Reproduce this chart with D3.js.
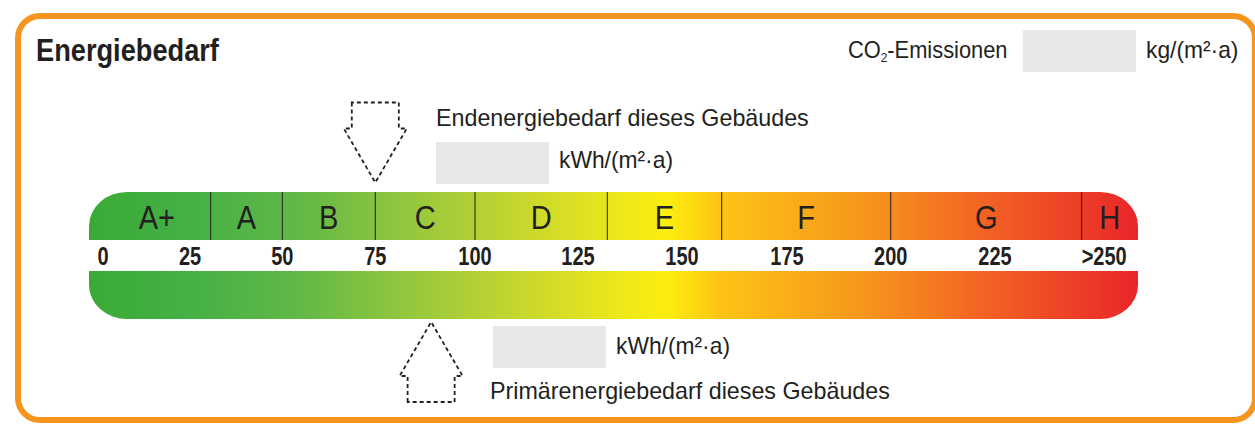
<!DOCTYPE html>
<html>
<head>
<meta charset="utf-8">
<script src="https://cdn.jsdelivr.net/npm/d3@7"></script>
<style>
  body { margin: 0; background: #fff; }
  svg { display: block; }
</style>
</head>
<body>
<div id="chart"></div>
<script>
const w = 1255, h = 428;

// classes and their lower bounds (H is open ended)
const classes = ["A+", "A", "B", "C", "D", "E", "F", "G", "H"];
const classBounds = [0, 30, 50, 75, 100, 130, 160, 200, 250, 265];

// printed scale
const tickValues = [0, 25, 50, 75, 100, 125, 150, 175, 200, 225, 250];
const tickLabels = ["0", "25", "50", "75", "100", "125", "150", "175", "200", "225", ">250"];

// values marked by the arrows, kWh/(m²·a)
const endenergie = 75;
const primaerenergie = 89;

// colour ramp along the scale
const rampValues = [-4, 25, 55, 85, 110, 133, 146, 160, 195, 228, 265];
const rampColors = ["#3aaa35", "#45b046", "#62b946", "#97c83d", "#c5d62f", "#ece81a", "#fcee0f", "#fdc314", "#f7941d", "#f15a24", "#e9262a"];

const FONT = '"Liberation Sans", Arial, sans-serif';
const INK = "#231f20";
const ORANGE = "#f7941d";
const BOX = "#e6e7e8";

// the printed scale is not evenly spaced, so the scale is piecewise
const x = d3.scaleLinear()
  .domain([-4, 0, 25, 30, 50, 75, 100, 125, 130, 150, 160, 175, 200, 225, 250, 265])
  .range([89, 103, 190, 210.7, 282.3, 375.3, 475, 578, 607.3, 682, 721.7, 787, 890.7, 995, 1081.7, 1138]);

// no condensed face is installed, so narrow the text by hand
function squeeze(sel, k) {
  sel.each(function() {
    const len = this.getComputedTextLength();
    d3.select(this).attr("textLength", len * k).attr("lengthAdjust", "spacingAndGlyphs");
  });
  return sel;
}

const svg = d3.select("#chart").append("svg")
  .attr("width", w).attr("height", h)
  .attr("viewBox", "0 0 " + w + " " + h)
  .style("font-family", FONT);

// frame
svg.append("rect")
  .attr("x", 18).attr("y", 16).attr("width", 1237).attr("height", 404)
  .attr("rx", 22).attr("ry", 22)
  .attr("fill", "none").attr("stroke", ORANGE).attr("stroke-width", 6);

// gradient
const defs = svg.append("defs");
const grad = defs.append("linearGradient").attr("id", "ramp")
  .attr("gradientUnits", "userSpaceOnUse")
  .attr("x1", x(-4)).attr("x2", x(265)).attr("y1", 0).attr("y2", 0);
grad.selectAll("stop").data(rampValues).enter().append("stop")
  .attr("offset", d => (x(d) - x(-4)) / (x(265) - x(-4)))
  .attr("stop-color", (d, i) => rampColors[i]);

const x0 = x(-4), x1 = x(265);
const rx = 38, ry = 34;
const topY = 192, topH = 48, botY = 271, botH = 48;

// upper bar: rounded on top
svg.append("path")
  .attr("d", "M" + x0 + "," + (topY + topH) + "V" + (topY + ry) +
    "A" + rx + "," + ry + " 0 0 1 " + (x0 + rx) + "," + topY +
    "H" + (x1 - rx) + "A" + rx + "," + ry + " 0 0 1 " + x1 + "," + (topY + ry) +
    "V" + (topY + topH) + "Z")
  .attr("fill", "url(#ramp)");

// lower bar: rounded at the bottom
svg.append("path")
  .attr("d", "M" + x0 + "," + botY + "H" + x1 + "V" + (botY + botH - ry) +
    "A" + rx + "," + ry + " 0 0 1 " + (x1 - rx) + "," + (botY + botH) +
    "H" + (x0 + rx) + "A" + rx + "," + ry + " 0 0 1 " + x0 + "," + (botY + botH - ry) + "Z")
  .attr("fill", "url(#ramp)");

// class dividers
svg.selectAll(null).data(classBounds.slice(1, -1)).enter().append("line")
  .attr("x1", d => x(d)).attr("x2", d => x(d))
  .attr("y1", topY).attr("y2", topY + topH)
  .attr("stroke", INK).attr("stroke-width", 1);

// class letters
squeeze(svg.selectAll(null).data(classes).enter().append("text")
  .attr("x", (d, i) => (x(classBounds[i]) + x(classBounds[i + 1])) / 2)
  .attr("y", 229)
  .attr("text-anchor", "middle")
  .attr("font-size", 33)
  .attr("fill", INK)
  .text(d => d), 0.88);

// scale labels
squeeze(svg.selectAll(null).data(tickValues).enter().append("text")
  .attr("x", d => x(d))
  .attr("y", 265)
  .attr("text-anchor", (d, i) => i === tickValues.length - 1 ? "start" : "middle")
  .attr("font-size", 25).attr("font-weight", "bold")
  .attr("fill", INK)
  .text((d, i) => tickLabels[i]), 0.8);

// dashed arrows
const arrowDown = "M-23.5,-80V-54H-31.5L0,0L31.5,-54H23.5V-80Z";
svg.append("path")
  .attr("d", arrowDown)
  .attr("transform", "translate(" + x(endenergie) + "," + 182.5 + ")")
  .attr("fill", "none").attr("stroke", INK).attr("stroke-width", 1.8)
  .attr("stroke-dasharray", "4,3");
svg.append("path")
  .attr("d", arrowDown)
  .attr("transform", "translate(" + x(primaerenergie) + "," + 322 + ") scale(1,-1)")
  .attr("fill", "none").attr("stroke", INK).attr("stroke-width", 1.8)
  .attr("stroke-dasharray", "4,3");

// text blocks
function label(tx, ty, txt, size, weight, k) {
  const t = svg.append("text").attr("x", tx).attr("y", ty)
    .attr("font-size", size).attr("font-weight", weight || "normal")
    .attr("fill", INK).text(txt);
  return squeeze(t, k);
}
function box(bx, by, bw, bh) {
  svg.append("rect").attr("x", bx).attr("y", by).attr("width", bw).attr("height", bh).attr("fill", BOX);
}

label(36, 61, "Energiebedarf", 32, "bold", 0.85);

const co2 = svg.append("text").attr("x", 848).attr("y", 58)
  .attr("font-size", 24).attr("fill", INK);
co2.append("tspan").text("CO");
co2.append("tspan").attr("font-size", 13).attr("dy", 4).text("2");
co2.append("tspan").attr("dy", -4).text("-Emissionen");
squeeze(co2, 0.91);
box(1023, 30, 113, 42);
label(1146, 58, "kg/(m²·a)", 24, null, 0.95);

label(436, 126, "Endenergiebedarf dieses Gebäudes", 24, null, 0.97);
box(436, 142, 113, 42);
label(559, 168, "kWh/(m²·a)", 24, null, 0.95);

box(493, 326, 113, 42);
label(616, 354, "kWh/(m²·a)", 24, null, 0.95);
label(490, 399, "Primärenergiebedarf dieses Gebäudes", 24, null, 0.97);
</script>
</body>
</html>
